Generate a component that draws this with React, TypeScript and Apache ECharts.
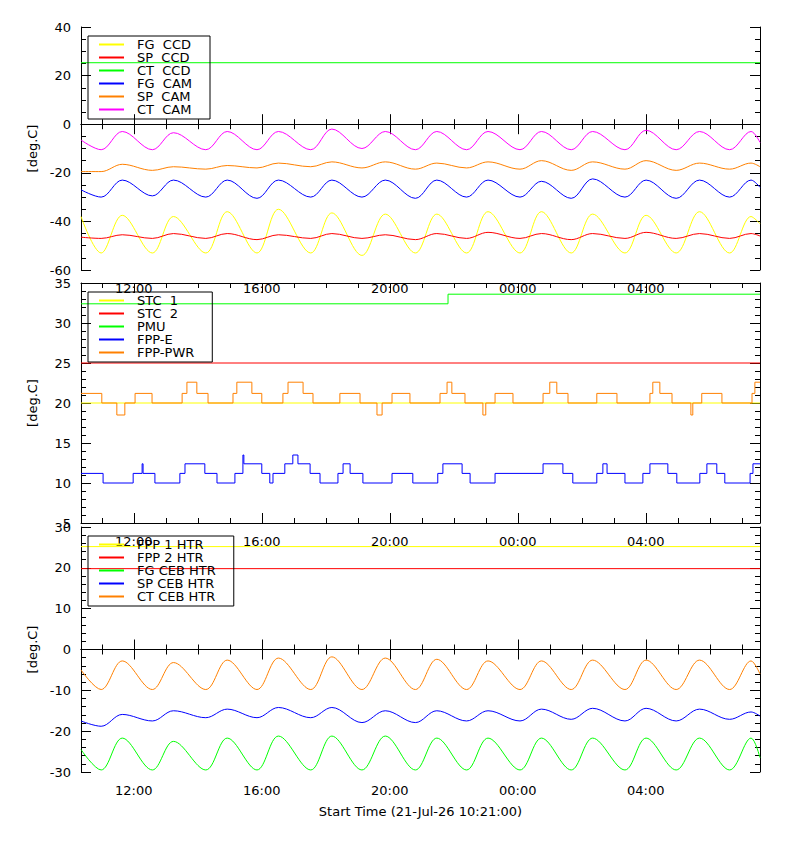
import React, { useEffect, useRef } from 'react';
import * as echarts from 'echarts';

// time in hours of day (24+ = next day), start 10:21
const T_START = 10.35;
const T_END = 31.57;
const PEAK_T = [11.64, 13.24, 14.92, 16.52, 18.19, 19.86, 21.47, 23.07, 24.74, 26.34, 28.01, 29.68, 31.29];
const TROUGH_T = [10.98, 12.58, 14.25, 15.85, 17.53, 19.13, 20.8, 22.4, 24.07, 25.67, 27.35, 28.95, 30.62];
const HOUR_TICKS = [11, 12, 13, 14, 15, 16, 17, 18, 19, 20, 21, 22, 23, 24, 25, 26, 27, 28, 29, 30, 31];
const MAJOR_TICKS = [12, 16, 20, 24, 28];

// panel 1 : CCD / CAM
const FG_CCD_PK = [-37.5, -38, -36, -35, -36.5, -37, -37, -36, -36, -37, -37.5, -36, -38];
const FG_CCD_TR = [-53, -53, -53, -53, -53, -54, -53, -53, -53, -53, -53, -53, -53];
const SP_CCD_PK = [-45.5, -45, -45, -45.5, -45, -45.5, -45, -44.5, -45, -45, -44.5, -45, -45];
const SP_CCD_TR = [-47, -47, -47, -47.5, -47, -47, -47.5, -47, -47, -47.5, -47, -47, -47];
const CT_CCD = 25.3;
const FG_CAM_PK = [-23, -23, -23, -23, -23, -23, -23, -23, -23.5, -22.5, -23, -23, -23];
const FG_CAM_TR = [-30, -29.5, -30, -30.5, -30, -30, -30.5, -30, -30, -30.5, -30, -30.5, -30];
const SP_CAM_PK = [-16.5, -17.5, -17, -16, -15.5, -15.5, -16, -15.5, -15, -15.5, -15, -16, -16];
const SP_CAM_TR = [-19.5, -19, -18.5, -18, -17.5, -18, -18.5, -18, -18.5, -19, -18.5, -19, -18.5];
const CT_CAM_PK = [-3, -3.5, -3, -3, -2, -3, -3, -3, -3, -3, -2.5, -3, -3];
const CT_CAM_TR = [-10.5, -10.5, -10.5, -10.5, -10.5, -10, -10.5, -10.5, -10.5, -10.5, -10.5, -10.5, -10.5];

// panel 2 : electronics (step levels, [time, value])
const STC1 = 20;
const STC2 = 25;
const PMU = [[10.35, 32.4], [21.82, 33.6]];
const FPP_E = [
  [10.35, 11.2], [11.04, 10], [11.98, 11.2], [12.26, 12.4], [12.29, 11.2], [12.66, 10], [13.44, 11.2], [13.6, 12.4],
  [14.22, 11.2], [14.6, 10], [15.16, 11.2], [15.41, 13.5], [15.44, 12.4], [16.0, 11.2], [16.25, 10], [16.35, 11.2],
  [16.72, 12.4], [16.97, 13.5], [17.13, 12.4], [17.51, 11.2], [17.82, 10], [18.38, 11.2], [18.54, 12.4], [18.76, 11.2],
  [19.16, 10], [20.07, 11.2], [20.72, 10], [21.5, 11.2], [21.66, 12.4], [22.26, 11.2], [22.51, 10], [23.29, 11.2],
  [24.79, 12.4], [25.41, 11.2], [25.72, 10], [26.47, 11.2], [26.66, 12.4], [26.79, 11.2], [27.35, 10], [27.91, 11.2],
  [28.13, 12.4], [28.69, 11.2], [28.97, 10], [29.69, 11.2], [29.91, 12.4], [30.22, 11.2], [30.47, 10], [31.26, 11.2],
  [31.35, 12.4],
];
const FPP_PWR = [
  [10.35, 21.2], [11.0, 20], [11.47, 18.5], [11.72, 20], [12.04, 21.2], [12.57, 20], [13.51, 21.2], [13.66, 22.6],
  [13.97, 21.2], [14.32, 20], [15.1, 21.2], [15.22, 22.6], [15.69, 21.2], [16.0, 20], [16.66, 21.2], [16.82, 22.6],
  [17.29, 21.2], [17.6, 20], [18.44, 21.2], [19.07, 20], [19.6, 18.5], [19.76, 20], [20.07, 21.2], [20.63, 20],
  [21.57, 21.2], [21.79, 22.6], [21.94, 21.2], [22.35, 20], [22.91, 18.5], [23.0, 20], [23.29, 21.2], [23.85, 20],
  [24.79, 21.2], [25.0, 22.6], [25.22, 21.2], [25.57, 20], [26.47, 21.2], [27.1, 20], [28.13, 21.2], [28.22, 22.6],
  [28.44, 21.2], [28.82, 20], [29.41, 18.5], [29.47, 20], [29.75, 21.2], [30.38, 20], [31.32, 21.2], [31.41, 22.6],
];

// panel 3 : heaters
const FPP1_HTR = 25.2;
const FPP2_HTR = 19.8;
const FG_CEB_PK = [-21.7, -22.5, -21.7, -21.2, -21.2, -21.2, -21.7, -21.7, -21.7, -21.7, -21.7, -21.7, -21.7];
const FG_CEB_TR = [-29.5, -29.5, -29.5, -29.5, -29.5, -29.5, -29.5, -29.5, -29.5, -29.5, -29.5, -29.5, -29.5];
const SP_CEB_PK = [-15.9, -15, -14.6, -14.2, -14.2, -15, -15, -15, -14.6, -14.4, -14.4, -14.6, -15.3];
const SP_CEB_TR = [-18.8, -17.5, -16.7, -16.7, -16.7, -17.9, -17.9, -17.5, -17.5, -17.1, -17.5, -17.5, -17.1];
const CT_CEB_PK = [-2.8, -3.2, -2.6, -2.1, -1.8, -2.1, -2.4, -2.8, -2.8, -2.6, -2.6, -2.6, -2.8];
const CT_CEB_TR = [-9.8, -9.8, -9.8, -9.8, -9.8, -9.8, -9.8, -9.8, -9.8, -9.8, -9.8, -9.8, -9.8];

const YEL = '#ffff00', RED = '#ff0000', GRN = '#00ff00', BLU = '#0000ff', ORA = '#ff8000', MAG = '#ff00ff';
const FONT = 'DejaVu Sans';

const orbit = (start: number, pk: number[], tr: number[], end: number) => {
  const pts: number[][] = [[T_START, start]];
  for (let i = 0; i < pk.length; i++) {
    pts.push([TROUGH_T[i], tr[i]]);
    pts.push([PEAK_T[i], pk[i]]);
  }
  pts.push([T_END, end]);
  return pts;
};
const flat = (v: number) => [[T_START, v], [T_END, v]];
const steps = (pts: number[][]) => [...pts, [T_END, pts[pts.length - 1][1]]];

const GRIDS = [
  { top: 27, height: 243 },
  { top: 283, height: 240 },
  { top: 527, height: 245 },
];
const Y_RANGES = [
  { min: -60, max: 40, interval: 20, minor: 5 },
  { min: 5, max: 35, interval: 5, minor: 1 },
  { min: -30, max: 30, interval: 10, minor: 2 },
];

const App: React.FC = () => {
  const chartRef = useRef<HTMLDivElement>(null);

  useEffect(() => {
    if (!chartRef.current) return;
    const chart = echarts.init(chartRef.current, undefined, { renderer: 'svg' });

    const xAxes: any[] = [];
    const yAxes: any[] = [];
    GRIDS.forEach((g, gi) => {
      ['bottom', 'top'].forEach((pos) => {
        [false, true].forEach((major) => {
          xAxes.push({
            type: 'value', gridIndex: gi, position: pos, min: T_START, max: T_END,
            axisLine: { show: !major, lineStyle: { color: '#000' } },
            splitLine: { show: false },
            axisTick: { show: true, inside: true, length: major ? 10 : 5, customValues: major ? MAJOR_TICKS : HOUR_TICKS, lineStyle: { color: '#000' } },
            axisLabel: {
              show: pos === 'bottom' && !major, customValues: MAJOR_TICKS, margin: 12,
              color: '#000', fontFamily: FONT, fontSize: 13,
              formatter: (v: number) => String(Math.round(v) % 24).padStart(2, '0') + ':00',
            },
            name: gi === 2 && pos === 'bottom' && !major ? 'Start Time (21-Jul-26 10:21:00)' : '',
            nameLocation: 'middle', nameGap: 33,
            nameTextStyle: { color: '#000', fontFamily: FONT, fontSize: 13 },
          });
        });
      });
      const r = Y_RANGES[gi];
      ['left', 'right'].forEach((pos) => {
        [false, true].forEach((minor) => {
          yAxes.push({
            type: 'value', gridIndex: gi, position: pos, min: r.min, max: r.max,
            interval: minor ? r.minor : r.interval,
            axisLine: { show: !minor, lineStyle: { color: '#000' } },
            splitLine: { show: false },
            axisTick: { show: true, inside: true, length: minor ? 5 : 10, lineStyle: { color: '#000' } },
            axisLabel: { show: pos === 'left' && !minor, margin: 10, color: '#000', fontFamily: FONT, fontSize: 13 },
            name: pos === 'left' && !minor ? '[deg.C]' : '', nameLocation: 'middle', nameGap: 42,
            nameTextStyle: { color: '#000', fontFamily: FONT, fontSize: 13 },
          });
        });
      });
    });

    const mk = (name: string, color: string, gi: number, data: number[][], kind: 'line' | 'step' | 'wave' = 'line') => ({
      name, type: 'line', xAxisIndex: gi * 4, yAxisIndex: gi * 4, data, symbol: 'none',
      step: kind === 'step' ? 'end' : undefined,
      smooth: kind === 'wave' ? 0.35 : false,
      lineStyle: { color, width: 1 }, itemStyle: { color },
    });

    const series = [
      mk('FG  CCD', YEL, 0, orbit(-38, FG_CCD_PK, FG_CCD_TR, -41), 'wave'),
      mk('SP  CCD', RED, 0, orbit(-46.5, SP_CCD_PK, SP_CCD_TR, -46), 'wave'),
      mk('CT  CCD', GRN, 0, flat(CT_CCD)),
      mk('FG  CAM', BLU, 0, orbit(-27, FG_CAM_PK, FG_CAM_TR, -26), 'wave'),
      mk('SP  CAM', ORA, 0, orbit(-19.5, SP_CAM_PK, SP_CAM_TR, -17.5), 'wave'),
      mk('CT  CAM', MAG, 0, orbit(-6.5, CT_CAM_PK, CT_CAM_TR, -7.5), 'wave'),
      mk('STC  1', YEL, 1, flat(STC1)),
      mk('STC  2', RED, 1, flat(STC2)),
      mk('PMU', GRN, 1, steps(PMU), 'step'),
      mk('FPP-E', BLU, 1, steps(FPP_E), 'step'),
      mk('FPP-PWR', ORA, 1, steps(FPP_PWR), 'step'),
      mk('FPP 1 HTR', YEL, 2, flat(FPP1_HTR)),
      mk('FPP 2 HTR', RED, 2, flat(FPP2_HTR)),
      mk('FG CEB HTR', GRN, 2, orbit(-24.5, FG_CEB_PK, FG_CEB_TR, -26.5), 'wave'),
      mk('SP CEB HTR', BLU, 2, orbit(-17.5, SP_CEB_PK, SP_CEB_TR, -16.3), 'wave'),
      mk('CT CEB HTR', ORA, 2, orbit(-5, CT_CEB_PK, CT_CEB_TR, -6), 'wave'),
    ];

    const legendNames = [
      ['FG  CCD', 'SP  CCD', 'CT  CCD', 'FG  CAM', 'SP  CAM', 'CT  CAM'],
      ['STC  1', 'STC  2', 'PMU', 'FPP-E', 'FPP-PWR'],
      ['FPP 1 HTR', 'FPP 2 HTR', 'FG CEB HTR', 'SP CEB HTR', 'CT CEB HTR'],
    ];

    chart.setOption({
      animation: false,
      backgroundColor: '#fff',
      grid: GRIDS.map((g) => ({ left: 81, right: 40, top: g.top, height: g.height })),
      xAxis: xAxes,
      yAxis: yAxes,
      legend: legendNames.map((names, gi) => ({
        data: names, orient: 'vertical', left: 88, top: GRIDS[gi].top + 9,
        itemWidth: 25, itemHeight: 12, itemGap: 0, padding: [2, 18, 3, 10],
        borderColor: '#000', borderWidth: 1, selectedMode: false,
        itemStyle: { opacity: 0 },
        textStyle: { color: '#000', fontFamily: FONT, fontSize: 13, padding: [0, 0, 0, 8] },
      })),
      series,
    });

    return () => {
      chart.dispose();
    };
  }, []);

  return <div ref={chartRef} style={{ position: 'fixed', left: 0, top: 0, width: 800, height: 850 }} />;
};

export default App;
